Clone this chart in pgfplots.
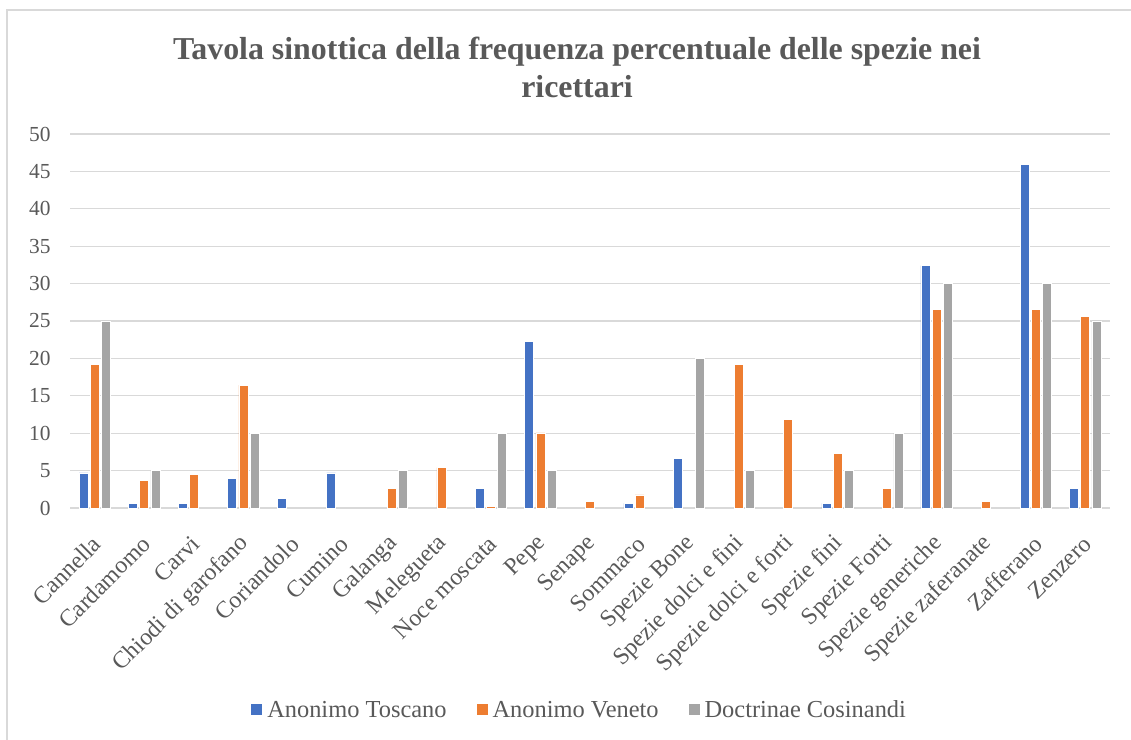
\documentclass[border=0pt]{standalone}
\usepackage{pgfplots}
\pgfplotsset{compat=1.18}
\usepackage{fontspec}
\setmainfont{Liberation Serif}
\definecolor{cBlue}{HTML}{4472C4}
\definecolor{cOrange}{HTML}{ED7D31}
\definecolor{cGray}{HTML}{A5A5A5}
\definecolor{cGrid}{HTML}{D9D9D9}
\definecolor{cText}{HTML}{595959}
\begin{document}
\begin{tikzpicture}[x=1bp,y=1bp]
\path[use as bounding box] (0,0) rectangle (1131,740);
\draw[cGrid,line width=1.2bp] (7,0) -- (7,730) -- (1131,730);
\node[anchor=base,font=\fontsize{32}{38}\selectfont\bfseries,text=cText] at (577,680) {Tavola sinottica della frequenza percentuale delle spezie nei};
\node[anchor=base,font=\fontsize{32}{38}\selectfont\bfseries,text=cText] at (577,642) {ricettari};
\begin{axis}[
  at={(70bp,232bp)}, anchor=south west,
  scale only axis, width=1040bp, height=374bp,
  ybar=2.2bp, bar width=9bp,
  xmin=-0.5, xmax=20.5, ymin=0, ymax=50,
  ytick={0,5,...,50},
  xtick={0,...,20},
  xticklabels={Cannella,Cardamomo,Carvi,Chiodi di garofano,Coriandolo,Cumino,Galanga,Melegueta,Noce moscata,Pepe,Senape,Sommaco,Spezie Bone,Spezie dolci e fini,Spezie dolci e forti,Spezie fini,Spezie Forti,Spezie generiche,Spezie zaferanate,Zafferano,Zenzero},
  major tick length=0pt,
  axis line style={draw=none},
  ymajorgrids, grid style={cGrid,line width=1.2bp},
  /pgf/number format/assume math mode=true,
  yticklabel style={font=\fontsize{21.5}{25}\selectfont, text=cText, xshift=-16bp},
  xticklabel style={font=\fontsize{24}{28}\selectfont, text=cText, inner sep=0pt, xshift=2bp, yshift=-32bp, rotate=45, anchor=east},
  legend style={at={(0.49,-0.54)}, anchor=center, legend columns=3, draw=none,
    font=\fontsize{24.5}{28}\selectfont, text=cText,
    /tikz/every odd column/.append style={column sep=3bp},
    /tikz/every even column/.append style={column sep=28bp}},
  legend image code/.code={\fill[#1,draw=none] (0bp,-5.5bp) rectangle (11bp,5.5bp);},
  every axis plot/.append style={draw=white, line width=0.6bp},
  clip=false,
]
\draw[cGrid,line width=1.2bp] (axis cs:-0.5,0) -- (axis cs:20.5,0);
\addplot[fill=cBlue] coordinates {(0,4.68) (1,0.62) (2,0.62) (3,3.97) (4,1.29) (5,4.68) (8,2.58) (9,22.28) (11,0.62) (12,6.68) (15,0.62) (17,32.4) (19,45.9) (20,2.58)};
\addplot[fill=cOrange] coordinates {(0,19.16) (1,3.65) (2,4.46) (3,16.44) (6,2.67) (7,5.39) (8,0.18) (9,10.03) (10,0.85) (11,1.74) (13,19.16) (14,11.8) (15,7.3) (16,2.67) (17,26.56) (18,0.85) (19,26.56) (20,25.58)};
\addplot[fill=cGray] coordinates {(0,25) (1,5) (3,10) (6,5) (8,10) (9,5) (12,20) (13,5) (15,5) (16,10) (17,30) (19,30) (20,25)};
\legend{Anonimo Toscano,Anonimo Veneto,Doctrinae Cosinandi}
\end{axis}
\end{tikzpicture}
\end{document}
